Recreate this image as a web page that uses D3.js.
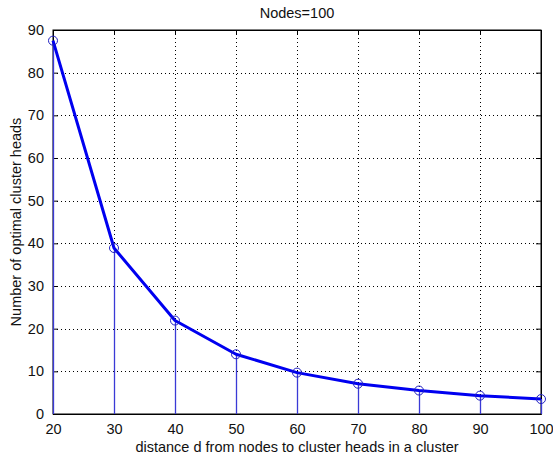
<!DOCTYPE html>
<html>
<head>
<meta charset="utf-8">
<script src="https://cdn.jsdelivr.net/npm/d3@7"></script>
<style>
  html, body { margin: 0; padding: 0; background: #fff; }
  svg { display: block; }
  text { font-family: "Liberation Sans", Arial, sans-serif; fill: #111; }
</style>
</head>
<body>
<script>
// Distance d (x) and optimal cluster head count (y), N = 100 nodes
const distances = [20, 30, 40, 50, 60, 70, 80, 90, 100];
const clusterHeads = [87.5, 38.9, 21.9, 14.0, 9.7, 7.1, 5.5, 4.3, 3.5];
const xTicks = [20, 30, 40, 50, 60, 70, 80, 90, 100];
const yTicks = [0, 10, 20, 30, 40, 50, 60, 70, 80, 90];

const W = 553, H = 460;
const m = { left: 53, right: 12, top: 30, bottom: 46 };
const iw = W - m.left - m.right, ih = H - m.top - m.bottom;
const FONT = "Liberation Sans, Arial, sans-serif";
const FS = 14.5;

const svg = d3.select("body").append("svg").attr("width", W).attr("height", H);
const g = svg.append("g").attr("transform", `translate(${m.left},${m.top})`);

const x = d3.scaleLinear().domain([20, 100]).range([0, iw]);
const y = d3.scaleLinear().domain([0, 90]).range([ih, 0]);
const px = v => Math.round(x(v)) + 0.5;
const py = v => Math.round(y(v)) + 0.5;

// dotted grid
g.append("g").selectAll("line").data(xTicks.slice(1, -1)).join("line")
  .attr("x1", d => px(d)).attr("x2", d => px(d)).attr("y1", 0).attr("y2", ih)
  .attr("stroke", "#000").attr("stroke-width", 1).attr("stroke-dasharray", "1,3");
g.append("g").selectAll("line").data(yTicks.slice(1, -1)).join("line")
  .attr("y1", d => py(d)).attr("y2", d => py(d)).attr("x1", 0).attr("x2", iw)
  .attr("stroke", "#000").attr("stroke-width", 1).attr("stroke-dasharray", "1,3");

// axes with inward ticks
g.append("g").attr("transform", `translate(0,${ih})`)
  .call(d3.axisBottom(x).tickValues(xTicks).tickSize(-5).tickPadding(10).tickSizeOuter(0));
g.append("g")
  .call(d3.axisLeft(y).tickValues(yTicks).tickSize(-5).tickPadding(9).tickSizeOuter(0));
g.append("g").attr("transform", `translate(${iw},0)`)
  .call(d3.axisRight(y).tickValues(yTicks).tickSize(-5).tickFormat("").tickSizeOuter(0));
g.append("g")
  .call(d3.axisTop(x).tickValues(xTicks).tickSize(-5).tickFormat("").tickSizeOuter(0));
g.selectAll(".domain").attr("stroke", "#000");
g.selectAll(".tick line").attr("stroke", "#000");
g.selectAll(".tick text").attr("font-size", FS).attr("font-family", FONT).attr("fill", "#111");

g.append("rect").attr("width", iw).attr("height", ih)
  .attr("fill", "none").attr("stroke", "#000").attr("stroke-width", 1);

// stems
g.append("g").selectAll("line").data(distances).join("line")
  .attr("x1", d => px(d)).attr("x2", d => px(d))
  .attr("y1", y(0)).attr("y2", (d, i) => y(clusterHeads[i]))
  .attr("stroke", "#3a3ad6").attr("stroke-width", 1.3);

// connecting curve
const line = d3.line().x((d, i) => x(distances[i])).y(d => y(d));
g.append("path").datum(clusterHeads).attr("d", line)
  .attr("fill", "none").attr("stroke", "#0000f0").attr("stroke-width", 3)
  .attr("stroke-linejoin", "round");

// markers
g.append("g").selectAll("circle").data(clusterHeads).join("circle")
  .attr("cx", (d, i) => x(distances[i])).attr("cy", d => y(d)).attr("r", 4.5)
  .attr("fill", "none").attr("stroke", "#2020c0").attr("stroke-width", 1);

// labels
svg.append("text").attr("x", m.left + iw / 2).attr("y", 18)
  .attr("text-anchor", "middle").attr("font-size", FS).text("Nodes=100");
svg.append("text").attr("x", m.left + iw / 2).attr("y", 452)
  .attr("text-anchor", "middle").attr("font-size", FS)
  .text("distance d from nodes to cluster heads in a cluster");
svg.append("text")
  .attr("transform", `translate(21,${m.top + ih / 2}) rotate(-90)`)
  .attr("text-anchor", "middle").attr("font-size", FS)
  .text("Number of optimal cluster heads");
</script>
</body>
</html>
